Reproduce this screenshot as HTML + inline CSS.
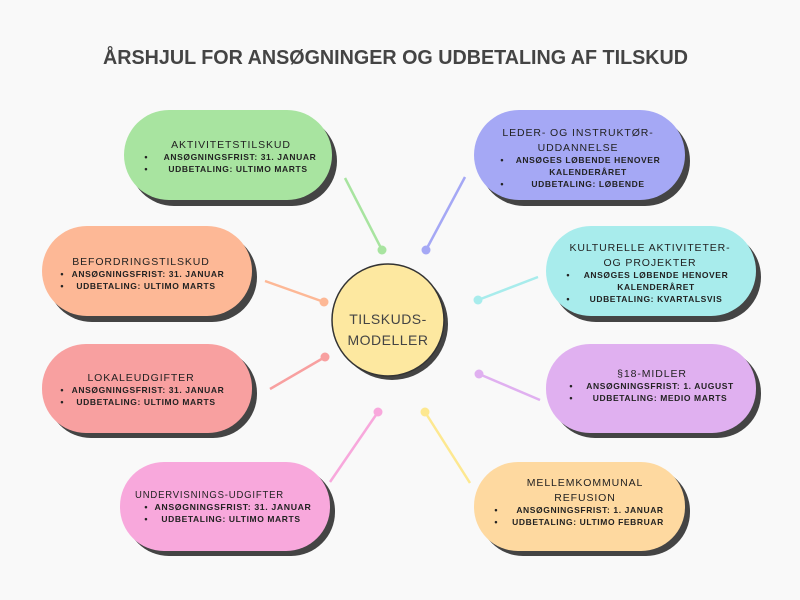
<!DOCTYPE html>
<html><head><meta charset="utf-8"><style>
html,body{margin:0;padding:0;background:#f9f9f9;}
svg{display:block;font-family:"Liberation Sans",sans-serif;}
.h{font-size:10.5px;letter-spacing:0.9px;fill:#222;text-anchor:middle}
.b{font-size:8.5px;font-weight:bold;letter-spacing:0.6px;fill:#222;text-anchor:middle}
.d{font-size:9px;font-weight:bold;fill:#222;text-anchor:middle}
</style></head><body>
<svg width="800" height="600" viewBox="0 0 800 600">
<rect width="800" height="600" fill="#f9f9f9"/>
<text x="103" y="64" font-size="20" font-weight="bold" fill="#444" textLength="585" lengthAdjust="spacingAndGlyphs">ÅRSHJUL FOR ANSØGNINGER OG UDBETALING AF TILSKUD</text>

<g stroke-width="2.5">
<line x1="345" y1="178" x2="382" y2="250" stroke="#a8e4a0"/><circle cx="382" cy="250" r="4.5" fill="#a8e4a0"/>
<line x1="465" y1="177" x2="426" y2="250" stroke="#a5a8f5"/><circle cx="426" cy="250" r="4.5" fill="#a5a8f5"/>
<line x1="265" y1="281" x2="324" y2="302" stroke="#fdb896"/><circle cx="324" cy="302" r="4.5" fill="#fdb896"/>
<line x1="538" y1="277" x2="478" y2="300" stroke="#a8ecec"/><circle cx="478" cy="300" r="4.5" fill="#a8ecec"/>
<line x1="270" y1="389" x2="325" y2="357" stroke="#f8a0a0"/><circle cx="325" cy="357" r="4.5" fill="#f8a0a0"/>
<line x1="540" y1="400" x2="479" y2="374" stroke="#e0b0f0"/><circle cx="479" cy="374" r="4.5" fill="#e0b0f0"/>
<line x1="330" y1="482" x2="378" y2="412" stroke="#f8a8dc"/><circle cx="378" cy="412" r="4.5" fill="#f8a8dc"/>
<line x1="470" y1="483" x2="425" y2="412" stroke="#fde890"/><circle cx="425" cy="412" r="4.5" fill="#fde890"/>
</g>

<circle cx="392" cy="324" r="56" fill="#444"/>
<circle cx="388" cy="320" r="56" fill="#fde8a0" stroke="#333" stroke-width="1.5"/>
<text text-anchor="middle" font-size="14" fill="#444" letter-spacing="0.5"><tspan x="388" y="324">TILSKUDS-</tspan><tspan x="388" y="345">MODELLER</tspan></text>

<g fill="#444">
<rect x="129" y="116" width="208" height="90" rx="45"/>
<rect x="479" y="116" width="211" height="90" rx="45"/>
<rect x="47" y="232" width="210" height="90" rx="45"/>
<rect x="551" y="232" width="210" height="90" rx="45"/>
<rect x="47" y="349" width="210" height="89" rx="44"/>
<rect x="551" y="349" width="210" height="89" rx="44"/>
<rect x="125" y="467" width="210" height="89" rx="44"/>
<rect x="479" y="467" width="211" height="89" rx="44"/>
</g>
<rect x="124" y="110" width="208" height="90" rx="45" fill="#a8e4a0"/>
<rect x="474" y="110" width="211" height="90" rx="45" fill="#a5a8f5"/>
<rect x="42" y="226" width="210" height="90" rx="45" fill="#fdb896"/>
<rect x="546" y="226" width="210" height="90" rx="45" fill="#a8ecec"/>
<rect x="42" y="344" width="210" height="89" rx="44" fill="#f8a0a0"/>
<rect x="546" y="344" width="210" height="89" rx="44" fill="#e0b0f0"/>
<rect x="120" y="462" width="210" height="89" rx="44" fill="#f8a8dc"/>
<rect x="474" y="462" width="211" height="89" rx="44" fill="#fed9a0"/>

<text class="h" x="231" y="148">AKTIVITETSTILSKUD</text>
<text class="d" x="146" y="160">•</text><text class="b" x="240" y="160">ANSØGNINGSFRIST: 31. JANUAR</text>
<text class="d" x="146" y="172">•</text><text class="b" x="238" y="172">UDBETALING: ULTIMO MARTS</text>

<text class="h" x="578" y="136">LEDER- OG INSTRUKTØR-</text>
<text class="h" x="578" y="151">UDDANNELSE</text>
<text class="d" x="502" y="163">•</text><text class="b" x="588" y="163">ANSØGES LØBENDE HENOVER</text>
<text class="b" x="588" y="175">KALENDERÅRET</text>
<text class="d" x="502" y="187">•</text><text class="b" x="588" y="187">UDBETALING: LØBENDE</text>

<text class="h" x="141" y="265">BEFORDRINGSTILSKUD</text>
<text class="d" x="62" y="277">•</text><text class="b" x="148" y="277">ANSØGNINGSFRIST: 31. JANUAR</text>
<text class="d" x="62" y="289">•</text><text class="b" x="146" y="289">UDBETALING: ULTIMO MARTS</text>

<text class="h" x="650" y="251">KULTURELLE AKTIVITETER-</text>
<text class="h" x="650" y="266">OG PROJEKTER</text>
<text class="d" x="568" y="278">•</text><text class="b" x="656" y="278">ANSØGES LØBENDE HENOVER</text>
<text class="b" x="656" y="290">KALENDERÅRET</text>
<text class="d" x="568" y="302">•</text><text class="b" x="656" y="302">UDBETALING: KVARTALSVIS</text>

<text class="h" x="141" y="381">LOKALEUDGIFTER</text>
<text class="d" x="62" y="393">•</text><text class="b" x="148" y="393">ANSØGNINGSFRIST: 31. JANUAR</text>
<text class="d" x="62" y="405">•</text><text class="b" x="146" y="405">UDBETALING: ULTIMO MARTS</text>

<text class="h" x="652" y="377">§18-MIDLER</text>
<text class="d" x="571" y="389">•</text><text class="b" x="660" y="389">ANSØGNINGSFRIST: 1. AUGUST</text>
<text class="d" x="571" y="401">•</text><text class="b" x="660" y="401">UDBETALING: MEDIO MARTS</text>

<text class="h" x="135" y="498" text-anchor="start" textLength="149" lengthAdjust="spacingAndGlyphs" style="text-anchor:start">UNDERVISNINGS-UDGIFTER</text>
<text class="d" x="146" y="510">•</text><text class="b" x="233" y="510" textLength="157" lengthAdjust="spacingAndGlyphs">ANSØGNINGSFRIST: 31. JANUAR</text>
<text class="d" x="146" y="522">•</text><text class="b" x="231" y="522">UDBETALING: ULTIMO MARTS</text>

<text class="h" x="585" y="486">MELLEMKOMMUNAL</text>
<text class="h" x="585" y="501">REFUSION</text>
<text class="d" x="496" y="513">•</text><text class="b" x="590" y="513">ANSØGNINGSFRIST: 1. JANUAR</text>
<text class="d" x="496" y="525">•</text><text class="b" x="588" y="525">UDBETALING: ULTIMO FEBRUAR</text>
</svg>
</body></html>
